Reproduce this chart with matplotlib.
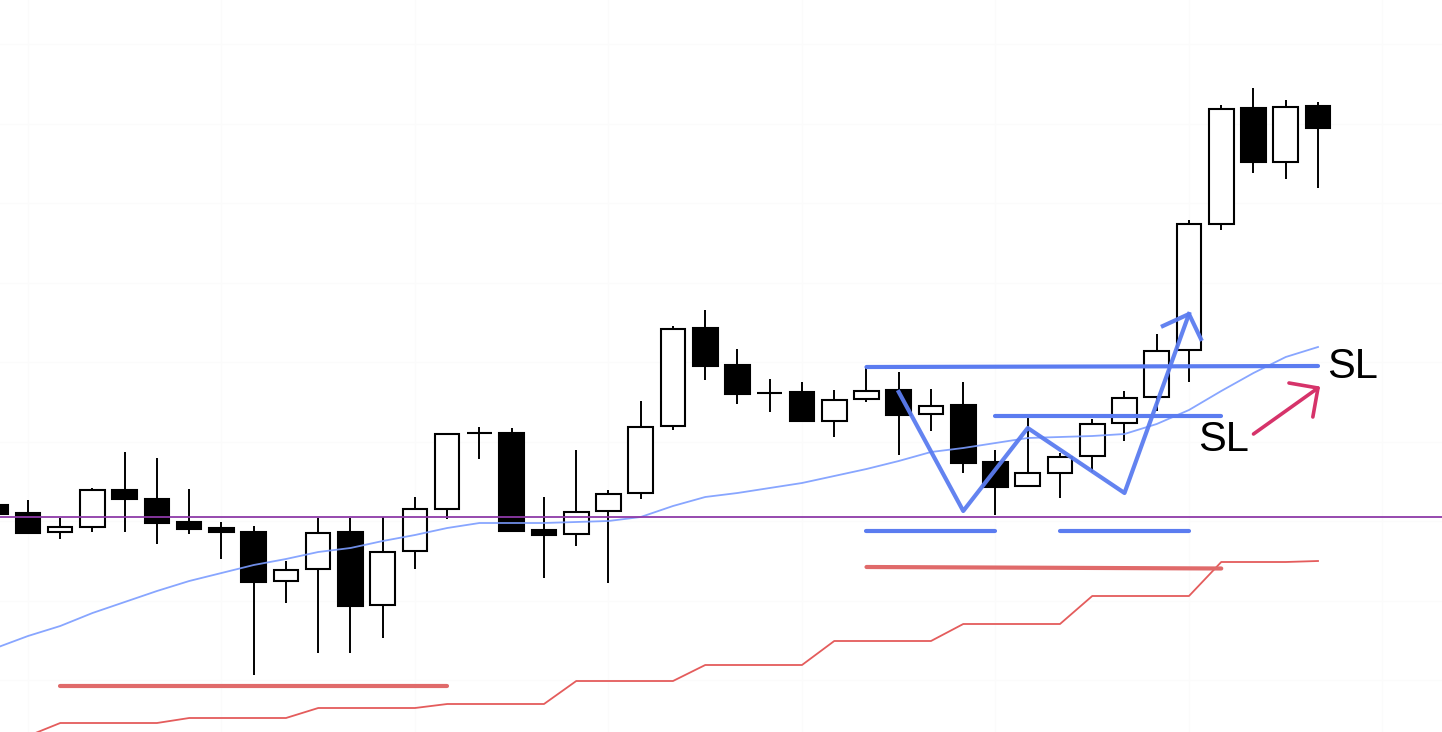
import matplotlib
matplotlib.use("Agg")
import matplotlib.pyplot as plt
import numpy as np

# candle data (screen units, smaller = higher price)
opens  = [505, 513, 532, 527, 490, 499, 522, 528, 532, 581, 569, 532, 605, 551, 509, 433,
          433, 530, 534, 511, 493, 426, 328, 365, 393, 392, 421, 399, 390, 414, 405, 462,
          486, 473, 456, 423, 397, 350, 224, 108, 162, 106]
highs  = [505, 500, 518, 488, 452, 458, 489, 522, 526, 561, 518, 518, 517, 497, 433, 427,
          428, 497, 450, 490, 401, 326, 310, 349, 379, 382, 390, 367, 372, 389, 382, 450,
          416, 453, 419, 391, 334, 220, 105, 88, 100, 102]
lows   = [514, 533, 539, 532, 532, 544, 534, 559, 675, 603, 653, 653, 638, 569, 519, 459,
          532, 578, 546, 583, 499, 430, 380, 404, 412, 421, 437, 402, 455, 431, 473, 515,
          486, 498, 472, 441, 411, 382, 230, 173, 179, 188]
closes = [514, 533, 527, 490, 499, 523, 529, 532, 582, 570, 533, 606, 552, 509, 434, 433,
          531, 535, 512, 494, 427, 329, 366, 394, 393, 421, 400, 391, 415, 406, 463, 487,
          473, 457, 424, 398, 351, 224, 109, 162, 107, 128]

ma = [648, 636, 626, 613, 602, 591, 581, 573, 565, 559, 552, 548, 541, 535, 528, 523,
      523, 523, 522, 521, 517, 506, 497, 493, 488, 483, 476, 469, 461, 452, 448, 443,
      438, 437, 436, 434, 424, 410, 391, 373, 357, 347]

# stepped support line, starts at candle 1
step_low = [736, 723, 723, 723, 723, 718, 718, 718, 718, 708, 708, 708, 708, 704, 704,
            704, 704, 681, 681, 681, 681, 665, 665, 665, 665, 641, 641, 641, 641, 624,
            624, 624, 624, 596, 596, 596, 596, 562, 562, 562, 561]

purple_level = 517

# drawn annotations (candle index, level)
zigzag_x = [28, 30, 32, 35, 37]
zigzag_y = [392, 511, 428, 493, 314]

fig = plt.figure(figsize=(14.42, 7.32), dpi=100)
ax = fig.add_axes([0, 0, 1, 1])
ax.set_xlim(0.132, 44.845)
ax.set_ylim(732, 0)
ax.axis("off")

# very faint grid
for gx in [1, 7, 13, 19, 25, 31, 37, 43]:
    ax.axvline(gx, color="#fbfbfb", lw=0.8, zorder=0)
for gy in np.arange(44, 732, 79.5):
    ax.axhline(gy, color="#fbfbfb", lw=0.8, zorder=0)

idx = np.arange(len(opens))
o = np.array(opens)
c = np.array(closes)
up = c < o
ax.vlines(idx, highs, lows, color="black", lw=1.4, zorder=2)
ax.bar(idx, c - o, bottom=o, width=0.76,
       color=np.where(up, "white", "black"), edgecolor="black", linewidth=1.5, zorder=3)

ax.plot(idx, ma, color="#7b9cff", lw=1.3, alpha=0.9, zorder=4)
ax.plot(idx[1:], step_low, color="#e45c5c", lw=1.3, zorder=4)
ax.axhline(purple_level, color="#8e3aa8", lw=1.3, zorder=4)

# hand drawn levels
red = "#e06a6a"
ax.plot([2, 14], [686, 686], color=red, lw=3, solid_capstyle="round", zorder=5)
ax.plot([27, 38], [567, 568.5], color=red, lw=3, solid_capstyle="round", zorder=5)

blue = "#5b7cf0"
ax.plot([27, 41], [367, 366], color=blue, lw=3, solid_capstyle="round", zorder=5)
ax.plot([31, 38], [416, 416], color=blue, lw=3, solid_capstyle="round", zorder=5)
ax.plot([27, 31], [531, 531], color=blue, lw=3, solid_capstyle="round", zorder=5)
ax.plot([33, 37], [531, 531], color=blue, lw=3, solid_capstyle="round", zorder=5)
ax.plot(zigzag_x, zigzag_y, color=blue, lw=3, alpha=0.95, zorder=6)
ax.plot([36.19, 37, 37.37], [326, 314, 339], color=blue, lw=3, alpha=0.95, zorder=6)

pink = "#d6336a"
ax.plot([39, 41], [434, 388], color=pink, lw=2.6, solid_capstyle="round", zorder=6)
ax.plot([40.1, 41, 40.84], [383, 388, 417], color=pink, lw=2.6,
        solid_capstyle="round", solid_joinstyle="round", zorder=6)

ax.text(41.28, 378, "SL", fontsize=30, family="Liberation Sans", color="black",
        ha="left", va="baseline", zorder=7)
ax.text(37.28, 451, "SL", fontsize=30, family="Liberation Sans", color="black",
        ha="left", va="baseline", zorder=7)

fig.savefig("out.png", dpi=100)
